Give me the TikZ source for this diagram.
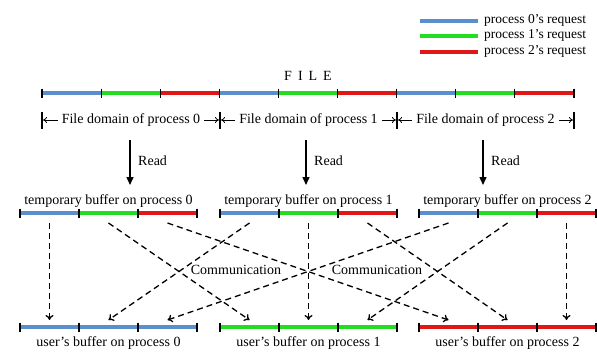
\documentclass[tikz,border=0pt]{standalone}
\usepackage{fontspec}
\setmainfont{Liberation Serif}
\usetikzlibrary{arrows.meta}
\definecolor{pblue}{RGB}{91,142,205}
\definecolor{pgreen}{RGB}{34,221,34}
\definecolor{pred}{RGB}{225,22,22}
\begin{document}
\begin{tikzpicture}[x=1pt,y=-1pt,
  seg/.style={line width=3.5pt},
  tickmark/.style={line width=1.1pt,black},
  lbl/.style={font=\fontsize{14}{16}\selectfont,inner sep=1pt},
  leg/.style={font=\fontsize{13.5}{15}\selectfont,inner sep=0pt,anchor=west},
  comm/.style={line width=1.3pt,dash pattern=on 6pt off 4pt,-{To[length=5pt,width=8pt]}},
  readarrow/.style={line width=1.4pt,-{Triangle[length=8pt,width=7pt]}},
  domarrow/.style={line width=0.8pt,-{To[length=4pt,width=6pt]}},
  domtick/.style={line width=1.3pt}]
\useasboundingbox (0,0) rectangle (597,351);

% legend
\coordinate (l0a) at (420,21); \coordinate (l0b) at (478,21);
\coordinate (l1a) at (420,36); \coordinate (l1b) at (478,36);
\coordinate (l2a) at (420,52); \coordinate (l2b) at (478,52);
\draw[seg,pblue] (l0a) -- (l0b);
\draw[seg,pgreen] (l1a) -- (l1b);
\draw[seg,pred] (l2a) -- (l2b);
\node[leg] (leg0) at (484,20) {process 0's request};
\node[leg] (leg1) at (484,35) {process 1's request};
\node[leg] (leg2) at (484,51) {process 2's request};

% FILE
\node[font=\fontsize{14}{16}\selectfont] (file) at (308,76) {F\hspace{6pt}I\hspace{6pt}L\hspace{6pt}E};
\foreach \i/\c in {0/pblue,1/pgreen,2/pred,3/pblue,4/pgreen,5/pred,6/pblue,7/pgreen,8/pred}{
  \draw[seg,\c] ({42+\i*59.11},93) -- ({42+(\i+1)*59.11},93);
}
\foreach \i in {0,...,9}{
  \draw[tickmark] ({42+\i*59.11},88.5) -- ({42+\i*59.11},97.5);
}

% file domains
\foreach \k/\xa/\xb in {0/42/220,1/220/397,2/397/574}{
  \coordinate (da\k) at (\xa,120);
  \coordinate (db\k) at (\xb,120);
  \node[lbl,inner xsep=4pt] (dom\k) at ({(\xa+\xb)/2},120) {File domain of process \k};
  \draw[domarrow] (dom\k.west) -- ([xshift=1pt]da\k);
  \draw[domarrow] (dom\k.east) -- ([xshift=-1pt]db\k);
}
\foreach \x in {42,220,397,574}{
  \draw[domtick] (\x,112) -- (\x,129);
}

% Read arrows
\foreach \k/\x in {0/130,1/306,2/483}{
  \coordinate (ra\k) at (\x,140);
  \coordinate (rb\k) at (\x,185);
  \draw[readarrow] (ra\k) -- (rb\k);
  \node[lbl,anchor=west] (read\k) at (\x+7,161) {Read};
}

% temporary buffers and user buffers
\foreach \b/\xo in {0/20,1/220,2/419}{
  \foreach \s/\c in {0/pblue,1/pgreen,2/pred}{
    \draw[seg,\c] ({\xo+\s*59},213) -- ({\xo+(\s+1)*59},213);
    \coordinate (t\b\s) at ({\xo+\s*59+29.5},223);
    \coordinate (u\s\b) at ({\xo+\s*59+29.5},320);
  }
  \foreach \s in {0,...,3}{
    \draw[tickmark] ({\xo+\s*59},208.5) -- ({\xo+\s*59},217.5);
  }
  \node[lbl] (tlab\b) at ({\xo+88.5},201) {temporary buffer on process \b};
  \node[lbl] (ulab\b) at ({\xo+88.5},343) {user's buffer on process \b};
}
\draw[seg,pblue] (20,327) -- (197,327);
\draw[seg,pgreen] (220,327) -- (397,327);
\draw[seg,pred] (419,327) -- (596,327);
\foreach \x in {20,79,138,197,220,279,338,397,419,478,537,596}{
  \draw[tickmark] (\x,322.5) -- (\x,331.5);
}

% communication arrows
\foreach \b in {0,1,2}{
  \foreach \s in {0,1,2}{
    \draw[comm] (t\b\s) -- (u\b\s);
  }
}
\node[lbl] (comm1) at (236,270) {Communication};
\node[lbl] (comm2) at (377,270) {Communication};
\end{tikzpicture}
\end{document}
